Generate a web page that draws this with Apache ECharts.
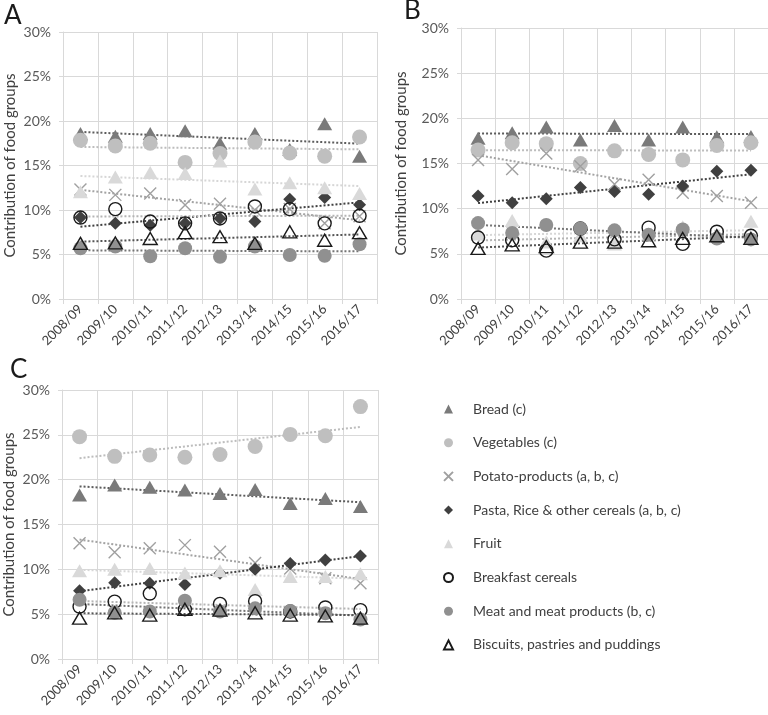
<!DOCTYPE html>
<html><head><meta charset="utf-8">
<script src="https://cdn.jsdelivr.net/npm/echarts@6/dist/echarts.min.js"></script>
<style>html,body{margin:0;padding:0;background:#fff}#c{width:768px;height:715px}</style>
</head><body><div id="c"></div>
<script>
const years = ['2008/09','2009/10','2010/11','2011/12','2012/13','2013/14','2014/15','2015/16','2016/17'];
const seriesNames = ['Bread (c)','Vegetables (c)','Potato-products (a, b, c)','Pasta, Rice & other cereals (a, b, c)','Fruit','Breakfast cereals','Meat and meat products (b, c)','Biscuits, pastries and puddings'];
const panelLabels = ['A','B','C'];
const yMin = 0, yMax = 30, yStep = 5;

// Panel A
const breadA     = [18.6, 18.3, 18.6, 18.9, 17.5, 18.6, 16.8, 19.7, 16.05];
const vegA       = [17.85, 17.2, 17.5, 15.35, 16.35, 17.65, 16.4, 16.05, 18.2];
const potatoA    = [12.3, 11.7, 11.85, 10.55, 10.7, 10.0, 10.1, 8.5, 9.3];
const pastaA     = [9.15, 8.5, 8.3, 8.5, 9.05, 8.7, 11.2, 11.4, 10.6];
const fruitA     = [12.05, 13.7, 14.2, 14.1, 15.5, 12.35, 13.05, 12.5, 11.85];
const breakfastA = [9.15, 10.1, 8.7, 8.5, 9.05, 10.4, 10.1, 8.5, 9.35];
const meatA      = [5.7, 5.9, 4.8, 5.7, 4.75, 5.9, 4.95, 4.85, 6.15];
const biscuitsA  = [6.25, 6.3, 6.8, 7.45, 7.0, 6.25, 7.55, 6.6, 7.45];

// Panel B
const breadB     = [17.8, 18.4, 19.05, 17.6, 19.2, 17.6, 19.05, 17.95, 18.0];
const vegB       = [16.5, 17.3, 17.2, 15.0, 16.4, 16.0, 15.4, 17.0, 17.3];
const potatoB    = [15.4, 14.4, 16.1, 14.7, 12.7, 13.2, 11.75, 11.4, 10.65];
const pastaB     = [11.4, 10.65, 11.1, 12.35, 11.9, 11.6, 12.5, 14.15, 14.25];
const fruitB     = [7.2, 8.7, 6.3, 7.0, 6.1, 7.2, 8.0, 7.0, 8.6];
const breakfastB = [6.8, 6.5, 5.35, 7.8, 6.6, 7.9, 6.1, 7.45, 7.0];
const meatB      = [8.4, 7.3, 8.2, 7.8, 7.6, 7.1, 7.7, 6.7, 6.6];
const biscuitsB  = [5.6, 6.0, 5.8, 6.3, 6.3, 6.45, 6.7, 7.0, 6.7];

// Panel C
const breadC     = [18.3, 19.4, 19.15, 18.85, 18.45, 18.9, 17.35, 17.9, 17.0];
const vegC       = [24.8, 22.6, 22.75, 22.5, 22.8, 23.7, 25.05, 24.9, 28.15];
const potatoC    = [12.9, 11.9, 12.35, 12.7, 11.95, 10.7, 10.1, 9.0, 8.45];
const pastaC     = [7.6, 8.5, 8.45, 8.3, 9.55, 10.0, 10.65, 11.05, 11.5];
const fruitC     = [9.85, 10.0, 10.1, 9.6, 9.85, 7.75, 9.2, 9.2, 9.5];
const breakfastC = [5.85, 6.4, 7.3, 5.55, 6.15, 6.45, 5.3, 5.75, 5.45];
const meatC      = [6.6, 5.15, 5.3, 6.5, 5.3, 5.65, 5.35, 5.1, 4.4];
const biscuitsC  = [4.55, 5.15, 4.9, 5.55, 5.45, 5.15, 4.9, 4.8, 4.55];

const panels = [
  [breadA, vegA, potatoA, pastaA, fruitA, breakfastA, meatA, biscuitsA],
  [breadB, vegB, potatoB, pastaB, fruitB, breakfastB, meatB, biscuitsB],
  [breadC, vegC, potatoC, pastaC, fruitC, breakfastC, meatC, biscuitsC]
];

const CLEAR = 'rgba(0,0,0,0)';
const styles = [
  {symbol:'triangle', size:[15,13], color:'#7a7a7a', border:CLEAR, bw:0, trend:'#5c5c5c'},
  {symbol:'circle', size:15, color:'#bfbfbf', border:CLEAR, bw:0, trend:'#bdbdbd'},
  {symbol:'path://M0,0L10,10M10,0L0,10', size:12, color:CLEAR, border:'#a0a0a0', bw:1.4, trend:'#a3a3a3'},
  {symbol:'diamond', size:13, color:'#404040', border:CLEAR, bw:0, trend:'#404040'},
  {symbol:'triangle', size:[15,13], color:'#d9d9d9', border:CLEAR, bw:0, trend:'#d6d6d6'},
  {symbol:'circle', size:13, color:CLEAR, border:'#1a1a1a', bw:1.4, trend:'#b5b5b5'},
  {symbol:'circle', size:14, color:'#909090', border:CLEAR, bw:0, trend:'#757575'},
  {symbol:'triangle', size:[14,12], color:CLEAR, border:'#1a1a1a', bw:1.4, trend:'#555555'}
];

const grids = [
  {left:63, top:32, width:314, height:267},
  {left:461, top:28, width:307, height:271},
  {left:62, top:390, width:316, height:269}
];
const nameGaps = [45, 52, 45];

const FONT = 'Lato, "Open Sans", sans-serif';

function fit(vals){
  const n = vals.length; const xm = (n-1)/2;
  const ym = vals.reduce((a,b)=>a+b,0)/n;
  let sxy=0,sxx=0;
  vals.forEach((v,i)=>{sxy+=(i-xm)*(v-ym); sxx+=(i-xm)*(i-xm);});
  const b = sxy/sxx, a = ym - b*xm;
  return [[0, a], [n-1, a + b*(n-1)]];
}

const xAxes = [], yAxes = [], series = [];
grids.forEach((g, gi) => {
  xAxes.push({
    gridIndex: gi, type:'category', data: years, boundaryGap:true,
    axisLine:{show:true, lineStyle:{color:'#d9d9d9', width:1}},
    axisTick:{show:true, length:5, lineStyle:{color:'#d9d9d9'}},
    splitLine:{show:true, lineStyle:{color:'#d9d9d9', width:1}},
    axisLabel:{rotate:45, interval:0, fontSize:13, color:'#404040', margin:8, fontFamily:FONT}
  });
  yAxes.push({
    gridIndex: gi, type:'value', min:yMin, max:yMax, interval:yStep,
    name:'Contribution of food groups', nameLocation:'middle', nameGap:nameGaps[gi],
    nameTextStyle:{fontSize:15, color:'#404040', fontFamily:FONT},
    axisLine:{show:true, lineStyle:{color:'#d9d9d9'}},
    axisTick:{show:true, length:4, lineStyle:{color:'#d9d9d9'}},
    splitLine:{show:true, lineStyle:{color:'#d9d9d9', width:1}},
    axisLabel:{formatter:'{value}%', fontSize:14, color:'#595959', margin:12, fontFamily:FONT}
  });
  panels[gi].forEach((vals, si) => {
    const st = styles[si];
    series.push({
      type:'line', xAxisIndex:gi, yAxisIndex:gi, data: fit(vals),
      symbol:'none', silent:true, z:1, animation:false,
      lineStyle:{color:st.trend, width:2, type:[2,2]}
    });
  });
  panels[gi].forEach((vals, si) => {
    const st = styles[si];
    series.push({
      name: seriesNames[si], type:'scatter', xAxisIndex:gi, yAxisIndex:gi,
      data: vals, symbol: st.symbol, symbolSize: st.size, z: 2 + si*0.01,
      itemStyle:{color:st.color, borderColor:st.border, borderWidth:st.bw, opacity:1},
      emphasis:{disabled:true}
    });
  });
});

const letterPos = [{x:4, y:3}, {x:404, y:-2}, {x:10, y:357}];
const graphics = panelLabels.map((t,i)=>({
  type:'text', left:letterPos[i].x, top:letterPos[i].y,
  style:{text:t, fontSize:26, fill:'#1a1a1a', fontFamily:FONT}
}));

const chart = echarts.init(document.getElementById('c'));
chart.setOption({
  animation:false,
  backgroundColor:'#ffffff',
  textStyle:{fontFamily:FONT},
  grid: grids,
  xAxis: xAxes,
  yAxis: yAxes,
  series: series,
  graphic: graphics,
  legend:{
    data: seriesNames, orient:'vertical', left:438, top:396,
    itemWidth:9, itemHeight:9, itemGap:17.7,
    selectedMode:false,
    textStyle:{fontSize:14, color:'#404040', fontFamily:FONT, lineHeight:16, padding:[0,0,0,15]}
  }
});
</script>
</body></html>
